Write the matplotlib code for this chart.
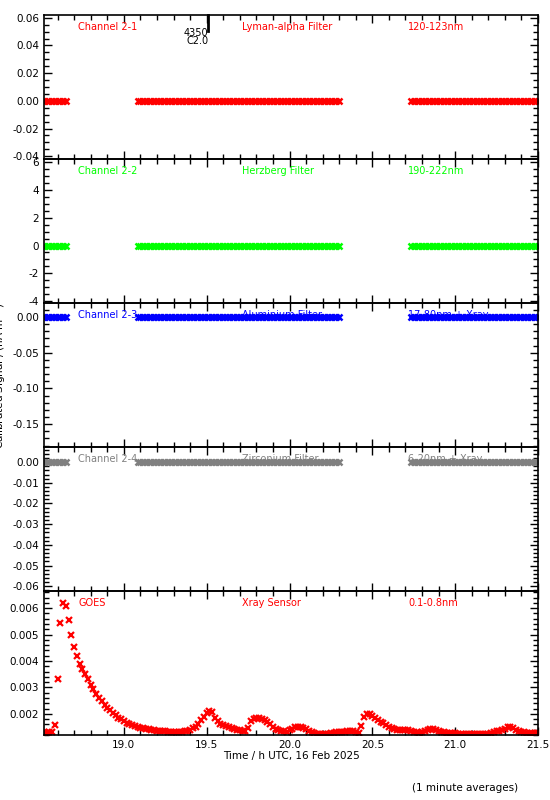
import numpy as np
import matplotlib
matplotlib.use("Agg")
import matplotlib.pyplot as plt
from matplotlib.ticker import MultipleLocator, FormatStrFormatter

# time axis: 1 minute averages starting 18:31 UTC
t_start = 18 + 31 / 60.0
n_minutes = 180

# GOES 0.1-0.8nm, one value per minute
goes = [
    0.00130, 0.00128, 0.00130, 0.00132, 0.00156, 0.00332, 0.00542, 0.00619, 0.00609, 0.00556,
    0.00498, 0.00454, 0.00418, 0.00390, 0.00371, 0.00352, 0.00333, 0.00310, 0.00293, 0.00276,
    0.00260, 0.00247, 0.00234, 0.00224, 0.00213, 0.00202, 0.00194, 0.00186, 0.00180, 0.00173,
    0.00167, 0.00162, 0.00158, 0.00154, 0.00150, 0.00148, 0.00145, 0.00143, 0.00142, 0.00140,
    0.00139, 0.00137, 0.00136, 0.00135, 0.00134, 0.00133, 0.00132, 0.00132, 0.00131, 0.00132,
    0.00133, 0.00134, 0.00136, 0.00140, 0.00145, 0.00152, 0.00163, 0.00175, 0.00190, 0.00205,
    0.00209, 0.00206, 0.00186, 0.00172, 0.00163, 0.00158, 0.00153, 0.00149, 0.00146, 0.00143,
    0.00140, 0.00138, 0.00136, 0.00135, 0.00148, 0.00172, 0.00180, 0.00183, 0.00186, 0.00182,
    0.00176, 0.00168, 0.00160, 0.00150, 0.00142, 0.00138, 0.00135, 0.00134, 0.00133, 0.00138,
    0.00144, 0.00150, 0.00152, 0.00151, 0.00147, 0.00141, 0.00135, 0.00130, 0.00127, 0.00125,
    0.00124, 0.00124, 0.00123, 0.00124, 0.00126, 0.00129, 0.00131, 0.00132, 0.00133, 0.00133,
    0.00135, 0.00137, 0.00136, 0.00132, 0.00128, 0.00155, 0.00187, 0.00200, 0.00198, 0.00192,
    0.00185, 0.00178, 0.00171, 0.00164, 0.00157, 0.00151, 0.00146, 0.00142, 0.00140, 0.00139,
    0.00139, 0.00139, 0.00140, 0.00137, 0.00133, 0.00130, 0.00129, 0.00131, 0.00135, 0.00139,
    0.00142, 0.00141, 0.00138, 0.00134, 0.00131, 0.00130, 0.00129, 0.00128, 0.00127, 0.00126,
    0.00124, 0.00123, 0.00122, 0.00122, 0.00123, 0.00122, 0.00122, 0.00123, 0.00122, 0.00123,
    0.00123, 0.00125, 0.00128, 0.00131, 0.00134, 0.00137, 0.00140, 0.00144, 0.00149, 0.00150,
    0.00145, 0.00140, 0.00136, 0.00133, 0.00130, 0.00128, 0.00127, 0.00127, 0.00126, 0.00127,
]

# LYRA channels: minute ranges where data exist (start, end inclusive)
seg_start = [0, 34, 133]
seg_end = [8, 107, 179]
lyra_level = 0.0  # all four channels sit at zero

channels = ["Channel 2-1", "Channel 2-2", "Channel 2-3", "Channel 2-4", "GOES"]
filters = ["Lyman-alpha Filter", "Herzberg Filter", "Aluminium Filter", "Zirconium Filter", "Xray Sensor"]
bands = ["120-123nm", "190-222nm", "17-80nm + Xray", "6-20nm + Xray", "0.1-0.8nm"]
colours = ["#ff0000", "#00ff00", "#0000ff", "#808080", "#ff0000"]
ylims = [(-0.042, 0.062), (-4.15, 6.25), (-0.182, 0.0196), (-0.0623, 0.0073), (0.00120, 0.00665)]
ymajor = [0.02, 2, 0.05, 0.01, 0.001]
yminor = [0.005, 0.5, 0.01, 0.002, 0.0002]
yfmt = ["%.2f", "%d", "%.2f", "%.2f", "%.3f"]

t = t_start + np.arange(n_minutes) / 60.0
lyra = np.full(n_minutes, np.nan)
for s, e in zip(seg_start, seg_end):
    lyra[s:e + 1] = lyra_level

fig = plt.figure(figsize=(5.5, 8), dpi=100)
left, width = 44 / 550, 494 / 550
top_px, h_px = 15, 144

axes = []
for k in range(5):
    bottom = 1 - (top_px + (k + 1) * h_px) / 800
    ax = fig.add_axes([left, bottom, width, h_px / 800])
    axes.append(ax)
    if k == 4:
        ax.plot(t, goes, ls="none", marker="x", ms=4, mew=1.6, color=colours[k])
    else:
        ax.plot(t, lyra, ls="none", marker="x", ms=4.5, mew=1.8, color=colours[k])
    ax.set_xlim(18.518, 21.5)
    ax.set_ylim(*ylims[k])
    ax.xaxis.set_major_locator(MultipleLocator(0.5))
    ax.xaxis.set_minor_locator(MultipleLocator(0.1))
    ax.yaxis.set_major_locator(MultipleLocator(ymajor[k]))
    ax.yaxis.set_minor_locator(MultipleLocator(yminor[k]))
    ax.yaxis.set_major_formatter(FormatStrFormatter(yfmt[k]))
    ax.xaxis.set_major_formatter(FormatStrFormatter("%.1f"))
    ax.tick_params(which="both", direction="in", top=True, right=True, labelsize=7.5, width=1)
    ax.tick_params(which="major", length=6)
    ax.tick_params(which="minor", length=3.5)
    if k < 4:
        ax.tick_params(labelbottom=False)
    for sp in ax.spines.values():
        sp.set_linewidth(1.2)
    ax.set_facecolor("none")
    yt = 0.915
    ax.text(0.069, yt, channels[k], transform=ax.transAxes, color=colours[k], fontsize=7, va="center")
    ax.text(0.40, yt, filters[k], transform=ax.transAxes, color=colours[k], fontsize=7, va="center")
    ax.text(0.737, yt, bands[k], transform=ax.transAxes, color=colours[k], fontsize=7, va="center")

# flare marker
ax0 = axes[0]
ax0.plot([19.51, 19.51], [0.062, 0.0505], color="black", lw=2, clip_on=False)
ax0.text(19.51, 0.0487, "4350", color="black", fontsize=7, ha="right", va="center")
ax0.text(19.51, 0.0434, "C2.0", color="black", fontsize=7, ha="right", va="center")

axes[4].set_xlabel("Time / h UTC, 16 Feb 2025", fontsize=7.5, labelpad=1)
fig.text(0.0, 0.53, "Calibrated Signal / (nA m$^{-2}$)", rotation=90, fontsize=7.5,
         ha="center", va="center")
fig.text(412 / 550, 1 - 788 / 800, "(1 minute averages)", fontsize=7.5, va="center")

fig.savefig("out.png", dpi=100)
